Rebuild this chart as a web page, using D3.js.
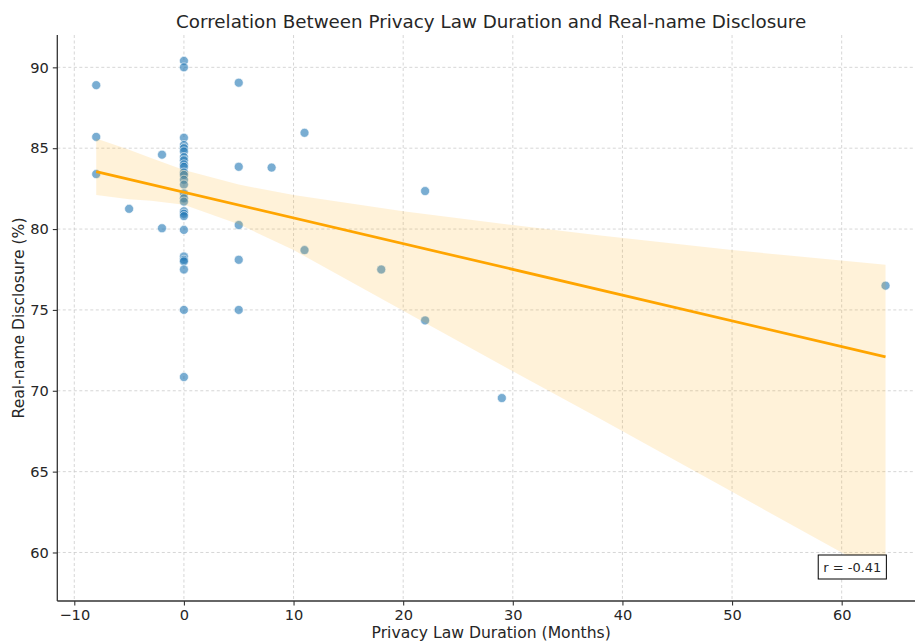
<!DOCTYPE html>
<html>
<head>
<meta charset="utf-8">
<script src="https://cdn.jsdelivr.net/npm/d3@7"></script>
<style>
  html, body { margin: 0; padding: 0; background: #fff; }
  svg { display: block; font-family: "DejaVu Sans", sans-serif; }
</style>
</head>
<body>
<svg id="chart" width="915" height="641"></svg>
<script>
// Months since the privacy law took effect, and share of real-name disclosure (%)
const durationMonths = [
  -8, -8, -8,
  -5,
  -2, -2,
  0, 0, 0, 0, 0, 0, 0, 0, 0, 0, 0, 0, 0, 0, 0, 0, 0, 0, 0, 0, 0, 0, 0, 0, 0, 0, 0,
  5, 5, 5, 5, 5,
  8,
  11, 11,
  18,
  22, 22,
  29,
  64
];
const disclosurePct = [
  88.9, 85.7, 83.4,
  81.25,
  84.6, 80.05,
  90.4, 90.0, 85.65, 85.2, 85.0, 84.8, 84.45, 84.25, 84.0, 83.85, 83.5, 83.35, 83.05,
  82.75, 82.2, 81.9, 81.7, 81.1, 80.95, 80.8, 79.95, 78.3, 78.1, 78.0, 77.5, 75.0, 70.85,
  89.05, 83.85, 80.25, 78.1, 75.0,
  83.8,
  85.95, 78.7,
  77.5,
  82.35, 74.35,
  69.55,
  76.5
];

// Fitted regression line (endpoints over the data range)
const fitX = [-8, 64];
const fitY = [83.55, 72.1];

// 95% confidence band around the fit
const bandX     = [-8,   -5,    -3,    0,     5,     10,    20,    30,    38,    50,    64];
const bandUpper = [85.6, 84.9,  84.4,  83.65, 82.75, 82.1,  81.1,  80.25, 79.6,  78.7,  77.8];
const bandLower = [82.1, 81.85, 81.75, 81.5,  80.3,  78.7,  74.95, 71.2,  68.25, 63.75, 58.5];

const xTicks = [-10, 0, 10, 20, 30, 40, 50, 60];
const yTicks = [60, 65, 70, 75, 80, 85, 90];

const corrLabel = "r = -0.41";
const titleText = "Correlation Between Privacy Law Duration and Real-name Disclosure";
const xLabelText = "Privacy Law Duration (Months)";
const yLabelText = "Real-name Disclosure (%)";

const svg = d3.select("#chart");
const plot = { left: 57.3, right: 925, top: 35, bottom: 601 };

const x = d3.scaleLinear().domain([-11.55, 67.6]).range([plot.left, plot.right]);
const y = d3.scaleLinear().domain([57.0, 92.0]).range([plot.bottom, plot.top]);

const textColor = "#262626";

// Grid
const grid = svg.append("g").attr("class", "grid");
grid.selectAll("line.gx").data(xTicks).join("line")
  .attr("x1", d => x(d)).attr("x2", d => x(d))
  .attr("y1", plot.top).attr("y2", plot.bottom)
  .attr("stroke", "#cbcbcb").attr("stroke-width", 0.8).attr("stroke-dasharray", "3,2.5");
grid.selectAll("line.gy").data(yTicks).join("line")
  .attr("x1", plot.left).attr("x2", plot.right)
  .attr("y1", d => y(d)).attr("y2", d => y(d))
  .attr("stroke", "#cbcbcb").attr("stroke-width", 0.8).attr("stroke-dasharray", "3,2.5");

// Scatter points
const points = durationMonths.map((m, i) => ({ m, p: disclosurePct[i] }));
svg.append("g").selectAll("circle").data(points).join("circle")
  .attr("cx", d => x(d.m)).attr("cy", d => y(d.p))
  .attr("r", 4.5)
  .attr("fill", "#1f77b4").attr("fill-opacity", 0.6)
  .attr("stroke", "#ffffff").attr("stroke-width", 0.6);

// Confidence band
const band = bandX.map((bx, i) => ({ bx, lo: bandLower[i], hi: bandUpper[i] }));
svg.append("path").datum(band)
  .attr("d", d3.area().x(d => x(d.bx)).y0(d => y(d.lo)).y1(d => y(d.hi)))
  .attr("fill", "#ffa500").attr("fill-opacity", 0.15);

// Fit line
svg.append("path").datum(fitX.map((fx, i) => [fx, fitY[i]]))
  .attr("d", d3.line().x(d => x(d[0])).y(d => y(d[1])))
  .attr("fill", "none").attr("stroke", "#ffa500").attr("stroke-width", 2.7);

// Axes
const xAxis = svg.append("g").attr("transform", `translate(0,${plot.bottom})`)
  .call(d3.axisBottom(x).tickValues(xTicks).tickSize(4.5).tickPadding(4)
    .tickFormat(d => d < 0 ? "\u2212" + Math.abs(d) : d));
const yAxis = svg.append("g").attr("transform", `translate(${plot.left},0)`)
  .call(d3.axisLeft(y).tickValues(yTicks).tickSize(4.5).tickPadding(4));

[xAxis, yAxis].forEach(g => {
  g.select(".domain").attr("stroke", "#333").attr("stroke-width", 1.3);
  g.selectAll(".tick line").attr("stroke", "#333").attr("stroke-width", 1.1);
  g.selectAll(".tick text").attr("fill", textColor)
    .style("font-size", "14.6px").style("font-family", "DejaVu Sans");
});
xAxis.select(".domain").attr("d", `M${plot.left},0H${plot.right}`);
yAxis.select(".domain").attr("d", `M0,${plot.top}V${plot.bottom}`);

// Title and axis labels
const plotMidX = (plot.left + plot.right) / 2;
svg.append("text").attr("x", plotMidX).attr("y", 28)
  .attr("text-anchor", "middle").attr("fill", textColor)
  .style("font-size", "18.3px").text(titleText);
svg.append("text").attr("x", plotMidX).attr("y", 638)
  .attr("text-anchor", "middle").attr("fill", textColor)
  .style("font-size", "15.6px").text(xLabelText);
svg.append("text")
  .attr("transform", `translate(24,${(plot.top + plot.bottom) / 2}) rotate(-90)`)
  .attr("text-anchor", "middle").attr("fill", textColor)
  .style("font-size", "15.6px").text(yLabelText);

// Correlation annotation box
const note = svg.append("g").attr("transform", "translate(852.3,567)");
const noteText = note.append("text").attr("text-anchor", "middle").attr("dy", "0.35em")
  .attr("fill", textColor).style("font-size", "13px").text(corrLabel);
const bb = noteText.node().getBBox();
note.insert("rect", "text")
  .attr("x", bb.x - 5).attr("y", -12).attr("width", bb.width + 10).attr("height", 24)
  .attr("fill", "#fff").attr("stroke", "#000").attr("stroke-width", 1);
</script>
</body>
</html>
